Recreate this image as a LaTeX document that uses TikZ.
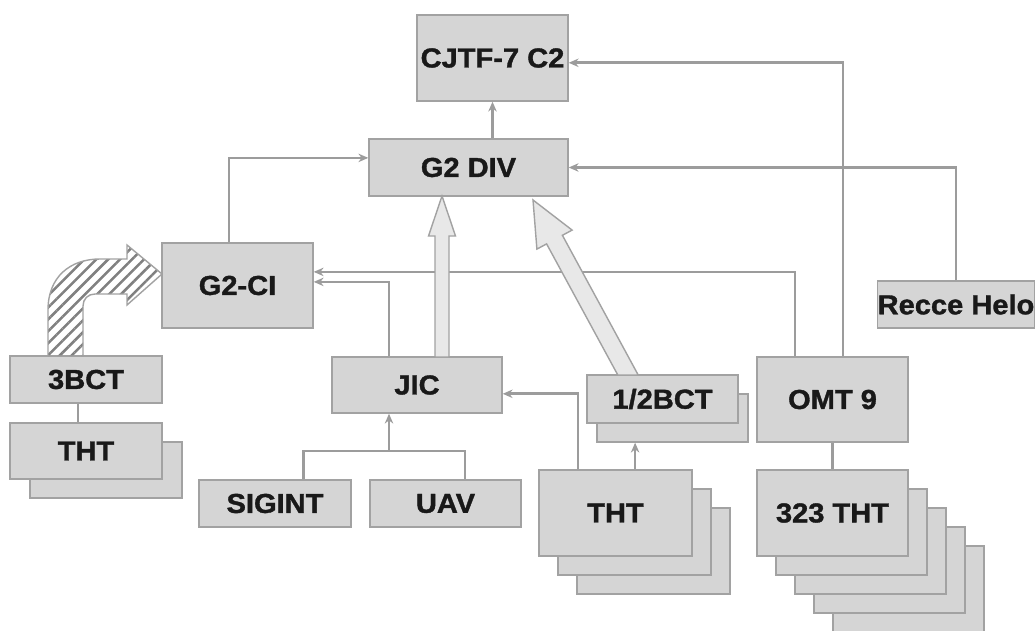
\documentclass[tikz,border=0pt]{standalone}
\usepackage{fontspec}
\setmainfont{Liberation Sans}
\newfontfamily\labelfont{Liberation Sans Bold}[FakeStretch=1.06,FakeBold=1.3]
\usetikzlibrary{arrows.meta,patterns.meta}
\definecolor{boxfill}{HTML}{D5D5D5}
\definecolor{boxline}{HTML}{A2A2A2}
\definecolor{wire}{HTML}{9C9C9C}
\definecolor{bigfill}{HTML}{E8E8E8}

\begin{document}
\begin{tikzpicture}[x=0.025cm,y=-0.025cm,
  box/.style={draw=boxline,fill=boxfill,line width=1pt,inner sep=0pt,text=black!90,font=\labelfont\fontsize{19.5}{22}\selectfont},
  link/.style={draw=wire,line width=1.9pt,-{Stealth[length=7pt,width=6pt]}},
  plain/.style={draw=wire,line width=1.9pt},
  bigarrow/.style={draw=boxline,fill=bigfill,line width=1pt},
  hatch/.style={draw=boxline,line width=1pt,pattern={Lines[angle=45,distance=6pt,line width=1.8pt]},pattern color=gray}]
\fill[white] (0,0) rectangle (1036,630);
\useasboundingbox (0,0) rectangle (1036,630);
\node[box,minimum width=3.775cm,minimum height=2.15cm] (cjtf) at (492.5,58) {CJTF-7 C2};
\node[box,minimum width=4.975cm,minimum height=1.425cm] (g2div) at (468.5,167.5) {G2 DIV};
\node[box,minimum width=3.775cm,minimum height=2.125cm] (g2ci) at (237.5,285.5) {G2-CI};
\node[box,minimum width=3.8cm,minimum height=1.175cm] (recce) at (956,304.5) {Recce Helo};
\node[box,minimum width=3.8cm,minimum height=1.175cm] (bct3) at (86,379.5) {3BCT};
\node[box,minimum width=3.8cm,minimum height=1.4cm] (tht1b) at (106,470) {};
\node[box,minimum width=3.8cm,minimum height=1.4cm] (tht1) at (86,451) {THT};
\node[box,minimum width=4.25cm,minimum height=1.4cm] (jic) at (417,385) {JIC};
\node[box,minimum width=3.8cm,minimum height=1.175cm] (sigint) at (275,503.5) {SIGINT};
\node[box,minimum width=3.775cm,minimum height=1.175cm] (uav) at (445.5,503.5) {UAV};
\node[box,minimum width=3.775cm,minimum height=1.2cm] (half-b) at (672.5,418) {};
\node[box,minimum width=3.775cm,minimum height=1.2cm] (half) at (662.5,399) {1/2BCT};
\node[box,minimum width=3.775cm,minimum height=2.125cm] (omt) at (832.5,399.5) {OMT 9};
\node[box,minimum width=3.825cm,minimum height=2.15cm] (tht2c) at (653.5,551) {};
\node[box,minimum width=3.825cm,minimum height=2.15cm] (tht2b) at (634.5,532) {};
\node[box,minimum width=3.825cm,minimum height=2.15cm] (tht2) at (615.5,513) {THT};
\node[box,minimum width=3.775cm,minimum height=2.15cm] (tht323e) at (908.5,589) {};
\node[box,minimum width=3.775cm,minimum height=2.15cm] (tht323d) at (889.5,570) {};
\node[box,minimum width=3.775cm,minimum height=2.15cm] (tht323c) at (870.5,551) {};
\node[box,minimum width=3.775cm,minimum height=2.15cm] (tht323b) at (851.5,532) {};
\node[box,minimum width=3.775cm,minimum height=2.15cm] (tht323) at (832.5,513) {323 THT};

\draw[link] (g2div.north -| cjtf) -- (cjtf.south);
\draw[link] ([xshift=0.26cm]omt.north) |- ([yshift=-0.12cm]cjtf.east);
\draw[link] (recce.north) |- (g2div.east);
\draw[link] ([xshift=-0.21cm]g2ci.north) |- ([yshift=0.24cm]g2div.west);
\draw[link] ([xshift=-0.94cm]omt.north) |- ([yshift=0.34cm]g2ci.east);
\draw[link] ([xshift=-0.7cm]jic.north) |- ([yshift=0.09cm]g2ci.east);
\coordinate (join) at (389,451);
\draw[plain] ([xshift=0.72cm]sigint.north) |- (join) -| ([xshift=0.49cm]uav.north);
\draw[link] (join) -- (join |- jic.south);
\draw[link] ([xshift=-0.94cm]tht2.north) |- ([yshift=-0.22cm]jic.east);
\coordinate (up) at ([xshift=0.49cm]tht2.north);
\draw[link] (up) -- (up |- half-b.south);
\draw[plain] ([xshift=-0.2cm]bct3.south) -- ([xshift=-0.2cm]tht1.north);
\draw[plain] (omt) -- (tht323);

\draw[bigarrow] (435,357) -- (435,236) -- (428.5,236) -- (442,196) -- (455.5,236) -- (449,236) -- (449,357) -- cycle;
\draw[bigarrow] (617.8,375) -- (546.6,243.9) -- (536.9,249.1) -- (533,200) -- (572.1,230.1) -- (562.4,235.3) -- (638.2,375) -- cycle;
\draw[hatch] (48,356) -- (48,310) .. controls (48,277) and (70,259) .. (100,259) -- (127,259) -- (127,245) -- (162,274) -- (127,305) -- (127,294) -- (95,294) .. controls (88,294) and (83,299) .. (83,306) -- (83,356) -- cycle;
\end{tikzpicture}
\end{document}
